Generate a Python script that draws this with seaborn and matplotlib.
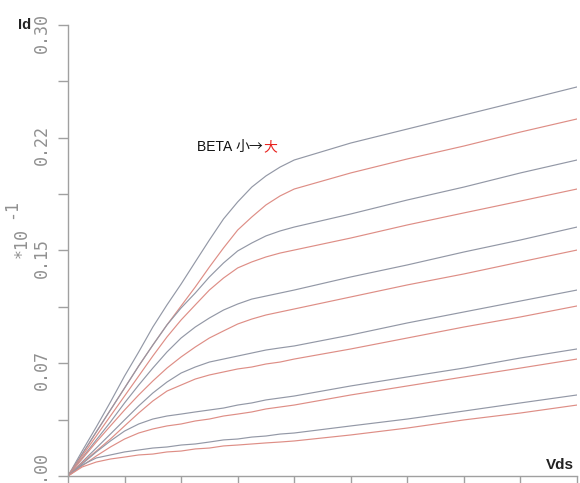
import matplotlib
matplotlib.use("Agg")
import matplotlib.pyplot as plt
import matplotlib.transforms as mtransforms
from matplotlib.ticker import MultipleLocator
import numpy as np
import pandas as pd
import seaborn as sns

# Drain voltage samples (axis spans 0..9, no tick labels)
vds = [0, 0.25, 0.5, 0.75, 1.0, 1.25, 1.5, 1.75, 2.0, 2.25, 2.5, 2.75,
       3.0, 3.25, 3.5, 3.75, 4.0, 5, 6, 7, 8, 9]

# Drain current (x10^-1), one pair per gate step: gray = lower BETA, red = higher BETA
id_g1 = [0, 0.0166, 0.0326, 0.0492, 0.0665, 0.0825, 0.0991, 0.1138, 0.1277, 0.1424, 0.1570,
         0.1710, 0.1823, 0.1922, 0.1996, 0.2055, 0.2102, 0.2215, 0.2308, 0.2401, 0.2494, 0.2588]
id_r1 = [0, 0.0146, 0.0293, 0.0439, 0.0585, 0.0732, 0.0871, 0.1005, 0.1131, 0.1257, 0.1390,
         0.1517, 0.1636, 0.1723, 0.1803, 0.1863, 0.1909, 0.2016, 0.2109, 0.2195, 0.2288, 0.2375]
id_g2 = [0, 0.0146, 0.0293, 0.0439, 0.0585, 0.0732, 0.0871, 0.1005, 0.1118, 0.1217, 0.1324,
         0.1417, 0.1497, 0.1550, 0.1597, 0.1630, 0.1656, 0.1743, 0.1836, 0.1922, 0.2016, 0.2102]
id_r2 = [0, 0.0133, 0.0266, 0.0399, 0.0532, 0.0665, 0.0798, 0.0925, 0.1038, 0.1138, 0.1237,
         0.1317, 0.1384, 0.1424, 0.1457, 0.1483, 0.1503, 0.1583, 0.1670, 0.1750, 0.1829, 0.1909]
id_g3 = [0, 0.0120, 0.0240, 0.0359, 0.0486, 0.0605, 0.0718, 0.0825, 0.0918, 0.0991, 0.1051,
         0.1104, 0.1144, 0.1177, 0.1197, 0.1217, 0.1237, 0.1324, 0.1404, 0.1490, 0.1570, 0.1656]
id_r3 = [0, 0.0113, 0.0226, 0.0333, 0.0439, 0.0539, 0.0632, 0.0718, 0.0792, 0.0858, 0.0918,
         0.0965, 0.1011, 0.1044, 0.1071, 0.1091, 0.1111, 0.1191, 0.1271, 0.1344, 0.1424, 0.1503]
id_g4 = [0, 0.0093, 0.0186, 0.0279, 0.0373, 0.0466, 0.0552, 0.0625, 0.0685, 0.0725, 0.0758,
         0.0778, 0.0798, 0.0818, 0.0838, 0.0852, 0.0865, 0.0938, 0.1018, 0.1091, 0.1164, 0.1237]
id_r4 = [0, 0.0087, 0.0166, 0.0246, 0.0333, 0.0419, 0.0499, 0.0565, 0.0605, 0.0645, 0.0672,
         0.0692, 0.0712, 0.0725, 0.0745, 0.0758, 0.0778, 0.0845, 0.0918, 0.0991, 0.1058, 0.1131]
id_g5 = [0, 0.0080, 0.0160, 0.0233, 0.0299, 0.0346, 0.0379, 0.0399, 0.0412, 0.0426, 0.0439,
         0.0452, 0.0472, 0.0486, 0.0506, 0.0519, 0.0532, 0.0599, 0.0659, 0.0718, 0.0785, 0.0845]
id_r5 = [0, 0.0067, 0.0133, 0.0193, 0.0246, 0.0286, 0.0313, 0.0333, 0.0346, 0.0366, 0.0379,
         0.0399, 0.0412, 0.0426, 0.0446, 0.0459, 0.0472, 0.0539, 0.0599, 0.0659, 0.0718, 0.0778]
id_g6 = [0, 0.0073, 0.0120, 0.0140, 0.0160, 0.0173, 0.0186, 0.0193, 0.0206, 0.0213, 0.0226,
         0.0240, 0.0246, 0.0259, 0.0266, 0.0279, 0.0286, 0.0333, 0.0379, 0.0432, 0.0486, 0.0539]
id_r6 = [0, 0.0060, 0.0093, 0.0113, 0.0126, 0.0140, 0.0146, 0.0160, 0.0166, 0.0180, 0.0186,
         0.0200, 0.0206, 0.0213, 0.0220, 0.0226, 0.0233, 0.0273, 0.0319, 0.0373, 0.0419, 0.0472]

curve_names = ["g1", "r1", "g2", "r2", "g3", "r3", "g4", "r4", "g5", "r5", "g6", "r6"]
curve_values = [id_g1, id_r1, id_g2, id_r2, id_g3, id_r3,
                id_g4, id_r4, id_g5, id_r5, id_g6, id_r6]

y_ticks = [0, 0.075, 0.15, 0.225, 0.30]
y_tick_labels = ["0.00", "0.07", "0.15", "0.22", "0.30"]

GRAY_LINE = "#9398a6"
RED_LINE = "#de8e86"
AXIS_GRAY = "#a0a0a0"
TEXT_GRAY = "#909090"

sns.set_style("white")
plt.rcParams["font.family"] = ["DejaVu Sans", "Noto Sans CJK SC"]

df = pd.concat(
    [pd.DataFrame({"Vds": vds, "Id": vals, "curve": name})
     for name, vals in zip(curve_names, curve_values)],
    ignore_index=True,
)
palette = {name: (GRAY_LINE if name.startswith("g") else RED_LINE) for name in curve_names}

fig = plt.figure(figsize=(5.8, 4.83), dpi=100)
ax = fig.add_axes([68 / 580, 7 / 483, 509 / 580, 451 / 483])

sns.lineplot(data=df, x="Vds", y="Id", hue="curve", hue_order=curve_names,
             palette=palette, estimator=None, sort=False, legend=False,
             linewidth=0.85, ax=ax)

ax.set_xlim(0, 9)
ax.set_ylim(0, 0.30)
ax.set_xlabel("")
ax.set_ylabel("")

sns.despine(ax=ax)
for side in ("left", "bottom"):
    ax.spines[side].set_color(AXIS_GRAY)
    ax.spines[side].set_linewidth(1.0)

ax.set_xticks(range(10))
ax.set_xticklabels([])
ax.set_yticks(y_ticks)
ax.set_yticklabels(y_tick_labels, rotation=90, va="center",
                   family="DejaVu Sans Mono", fontsize=12, color=TEXT_GRAY)
ax.yaxis.set_minor_locator(MultipleLocator(0.0375))
ax.tick_params(axis="y", which="both", left=True, direction="out",
               length=7.5, width=1.0, color=AXIS_GRAY, pad=5)
ax.tick_params(axis="x", which="major", bottom=True, direction="out",
               length=6, width=1.0, color=AXIS_GRAY)

# nudge rotated tick labels vertically (bottom one sits a little higher)
for lab, dy in zip(ax.get_yticklabels(), [4, -7, -7, -7, -8]):
    shift = mtransforms.ScaledTranslation(0, dy / 100, fig.dpi_scale_trans)
    lab.set_transform(lab.get_transform() + shift)

# scale factor label on the y axis
fig.text(22 / 580, 1 - 243 / 483, "*10", rotation=90, ha="center", va="center",
         family="DejaVu Sans Mono", fontsize=12, color=TEXT_GRAY)
fig.text(11 / 580, 1 - 209 / 483, "-1", rotation=90, ha="center", va="center",
         family="DejaVu Sans Mono", fontsize=12, color=TEXT_GRAY)

# axis names
fig.text(25 / 580, 1 - 25 / 483, "Id", ha="center", va="center",
         family="Liberation Sans", fontweight="bold", fontsize=10.5, color="#222222")
fig.text(560 / 580, 1 - 465 / 483, "Vds", ha="center", va="center",
         family="Liberation Sans", fontweight="bold", fontsize=11, color="#222222")

# BETA annotation, with the last character in red
t1 = ax.text(2.28, 0.216, "BETA ", ha="left", va="baseline",
             family="Liberation Sans", fontsize=10, color="#111111")
t2 = ax.annotate("小→", xy=(1, 0), xycoords=t1, ha="left", va="bottom",
                 family=["Noto Sans CJK SC"], fontsize=10, color="#111111")
ax.annotate("大", xy=(1, 0), xycoords=t2, ha="left", va="bottom",
            family=["Noto Sans CJK SC"], fontsize=10, color="#e8231f")

fig.savefig("out.png", dpi=100)
